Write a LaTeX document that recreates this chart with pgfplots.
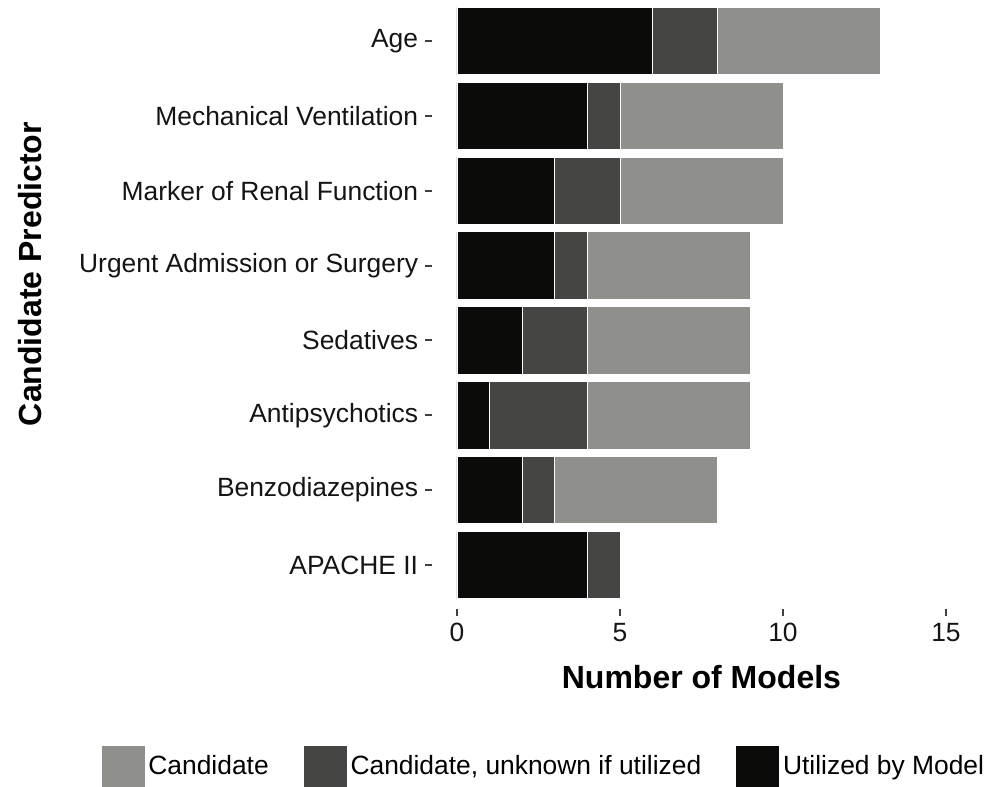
\documentclass[border=0pt]{standalone}
\usepackage{pgfplots}
\pgfplotsset{compat=1.18}
\usepackage{fontspec}
\setmainfont{Liberation Sans}
\definecolor{cand}{HTML}{8F908B}
\definecolor{unk}{HTML}{454543}
\definecolor{util}{HTML}{0B0B0A}
\begin{document}
\begin{tikzpicture}
\begin{axis}[
  name=ax,
  scale only axis,
  width=268.95pt, height=304.5pt,
  xmin=-0.75, xmax=15.75,
  ymin=0.412, ymax=8.548,
  xbar stacked,
  bar width=0.9,
  ytick={1,...,8},
  yticklabels={APACHE II, Benzodiazepines, Antipsychotics, Sedatives, Urgent Admission or Surgery, Marker of Renal Function, Mechanical Ventilation, Age},
  xtick={0,5,10,15},
  tick pos=left,
  axis line style={draw=none},
  tick align=outside,
  major tick length=3.5pt,
  tick style={color=black!75, line width=1pt},
  /pgf/number format/assume math mode=true,
  ticklabel style={font=\fontsize{13.2}{15}\selectfont, text=black!92},
  yticklabel style={inner sep=0pt, xshift=-3.5pt},
  xticklabel style={inner sep=0pt, yshift=-3.5pt},
  xlabel={Number of Models},
  ylabel={Candidate Predictor},
  label style={font=\fontsize{16}{19}\selectfont\bfseries},
  xlabel style={at={(axis description cs:0.5,-0.1117)}, anchor=center},
  ylabel style={at={(axis description cs:-0.748,0.55)}, anchor=center},
  reverse legend,
  legend style={at={(axis description cs:0.207,-0.258)}, anchor=center, draw=none, fill=none,
    legend columns=3, font=\fontsize{13.2}{15}\selectfont,
    nodes={inner sep=1.5pt},
    /tikz/every even column/.append style={column sep=15.5pt}},
  legend image code/.code={\fill[#1] (0pt,-10.5pt) rectangle (22pt,10.5pt);},
]
\addplot[fill=util, draw=white, line width=0.4pt] coordinates {(4,1) (2,2) (1,3) (2,4) (3,5) (3,6) (4,7) (6,8)};
\addlegendentry{Utilized by Model}
\addplot[fill=unk, draw=white, line width=0.4pt] coordinates {(1,1) (1,2) (3,3) (2,4) (1,5) (2,6) (1,7) (2,8)};
\addlegendentry{Candidate, unknown if utilized}
\addplot[fill=cand, draw=white, line width=0.4pt] coordinates {(0,1) (5,2) (5,3) (5,4) (5,5) (5,6) (5,7) (5,8)};
\addlegendentry{Candidate}
\end{axis}
\pgfresetboundingbox
\path[use as bounding box] ([xshift=-216.25pt,yshift=-89pt]ax.south west) rectangle ([xshift=8.3pt]ax.north east);
\end{tikzpicture}
\end{document}
